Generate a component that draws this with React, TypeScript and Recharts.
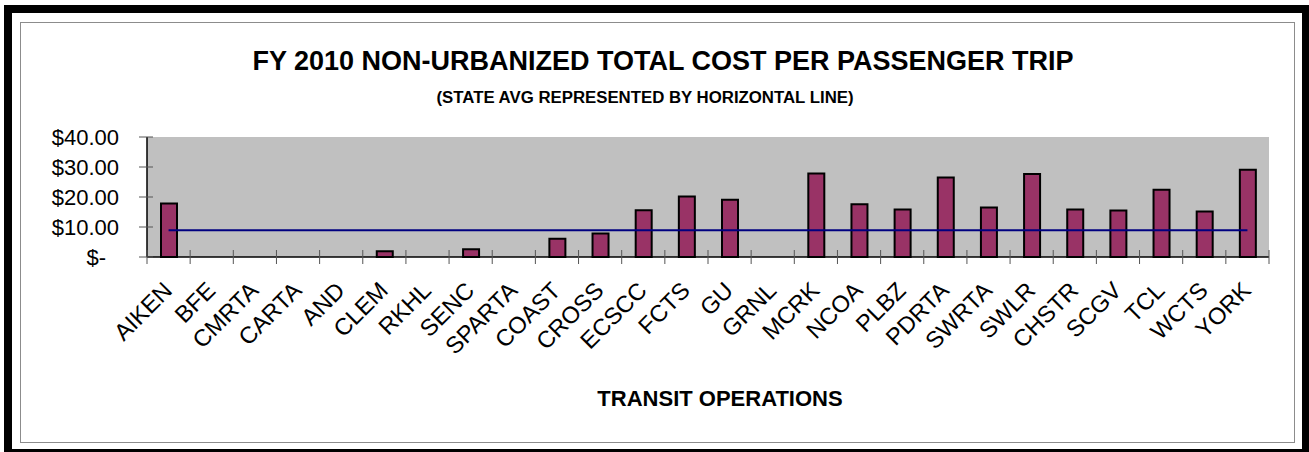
import React from 'react';
import { ComposedChart, Bar, Line, XAxis, YAxis, CartesianGrid } from 'recharts';

const categories = [
  'AIKEN', 'BFE', 'CMRTA', 'CARTA', 'AND', 'CLEM', 'RKHL', 'SENC', 'SPARTA', 'COAST',
  'CROSS', 'ECSCC', 'FCTS', 'GU', 'GRNL', 'MCRK', 'NCOA', 'PLBZ', 'PDRTA', 'SWRTA',
  'SWLR', 'CHSTR', 'SCGV', 'TCL', 'WCTS', 'YORK',
];
const costPerTrip = [
  17.8, 0, 0, 0, 0, 1.9, 0, 2.6, 0, 6.1,
  7.8, 15.6, 20.2, 19.1, 0, 27.8, 17.6, 15.8, 26.5, 16.5,
  27.7, 15.8, 15.5, 22.4, 15.2, 29.1,
];
const stateAverage = 8.9;
const yTicks = [0, 10, 20, 30, 40];

const data = categories.map((name, i) => ({
  name,
  cost: costPerTrip[i],
  avg: stateAverage,
}));

const W = 1309;
const H = 452;
const MARGIN = { top: 137, right: 40, left: 0, bottom: 0 };
const Y_AXIS_W = 147;
const X_AXIS_H = 195;
const PLOT_W = W - MARGIN.right - MARGIN.left - Y_AXIS_W;
const FONT = '"Liberation Sans", Arial, sans-serif';

const CategoryTick = (props: any) => {
  const { x, y, payload, index } = props;
  const band = PLOT_W / categories.length;
  const px = x + 5;
  const py = y + 35;
  return (
    <g>
      <line x1={x - band / 2} x2={x - band / 2} y1={y - 7} y2={y + 7} stroke="#555" />
      {index === categories.length - 1 && (
        <line x1={x + band / 2} x2={x + band / 2} y1={y - 7} y2={y + 7} stroke="#555" />
      )}
      <text
        x={px}
        y={py}
        transform={`rotate(-45, ${px}, ${py})`}
        textAnchor="end"
        fontSize={23.5}
        fontFamily={FONT}
        fill="#000"
      >
        {payload.value}
      </text>
    </g>
  );
};

const MoneyTick = (props: any) => {
  const { x, y, payload } = props;
  const v = payload.value as number;
  const label = v === 0 ? '$-' : `$${v.toFixed(2)}`;
  return (
    <g>
      <line x1={x - 8} x2={x + 6} y1={y} y2={y} stroke="#555" />
      <text
        x={v === 0 ? x - 41 : x - 28}
        y={y}
        dy="0.355em"
        textAnchor="end"
        fontSize={22}
        fontFamily={FONT}
        fill="#000"
      >
        {label}
      </text>
    </g>
  );
};

const textBase: React.CSSProperties = {
  position: 'absolute',
  transform: 'translateX(-50%)',
  whiteSpace: 'nowrap',
  fontFamily: FONT,
  fontWeight: 'bold',
  lineHeight: 1,
  color: '#000',
};

export default function App() {
  return (
    <div
      style={{
        position: 'absolute',
        left: 0,
        top: 0,
        width: W,
        height: H,
        overflow: 'hidden',
        background: '#fff',
      }}
    >
      <div
        style={{
          position: 'absolute',
          left: 4,
          top: 5,
          width: 1306,
          height: 452,
          border: '8px solid #000',
          boxSizing: 'border-box',
        }}
      />
      <div
        style={{
          position: 'absolute',
          left: 20,
          top: 22,
          width: 1275,
          height: 421,
          border: '1px solid #8c8c8c',
          boxSizing: 'border-box',
        }}
      />
      <div style={{ ...textBase, left: 663, top: 48, fontSize: 27 }}>
        FY 2010 NON-URBANIZED TOTAL COST PER PASSENGER TRIP
      </div>
      <div style={{ ...textBase, left: 645, top: 90, fontSize: 16.8 }}>
        (STATE AVG REPRESENTED BY HORIZONTAL LINE)
      </div>
      <div style={{ ...textBase, left: 720, top: 388, fontSize: 22 }}>
        TRANSIT OPERATIONS
      </div>
      <div style={{ position: 'absolute', left: 0, top: 0 }}>
        <ComposedChart width={W} height={H} data={data} margin={MARGIN}>
          <CartesianGrid fill="#c0c0c0" horizontal={false} vertical={false} />
          <XAxis
            dataKey="name"
            type="category"
            height={X_AXIS_H}
            interval={0}
            tickSize={0}
            tickMargin={0}
            tickLine={false}
            axisLine={{ stroke: '#000', strokeWidth: 1.5 }}
            tick={<CategoryTick />}
          />
          <XAxis
            xAxisId="top"
            dataKey="name"
            orientation="top"
            height={0}
            tick={false}
            tickLine={false}
            axisLine={{ stroke: '#808080', strokeWidth: 2 }}
          />
          <YAxis
            domain={[0, 40]}
            ticks={yTicks}
            width={Y_AXIS_W}
            tickSize={0}
            tickMargin={0}
            tickLine={false}
            axisLine={{ stroke: '#000', strokeWidth: 1.5 }}
            tick={<MoneyTick />}
            interval={0}
          />
          <YAxis
            yAxisId="right"
            orientation="right"
            domain={[0, 40]}
            width={0}
            tick={false}
            tickLine={false}
            axisLine={{ stroke: '#808080', strokeWidth: 2 }}
          />
          <Bar
            dataKey="cost"
            fill="#993366"
            stroke="#000"
            strokeWidth={2}
            barSize={16}
            isAnimationActive={false}
          />
          <Line
            dataKey="avg"
            stroke="#000080"
            strokeWidth={2}
            dot={false}
            activeDot={false}
            isAnimationActive={false}
          />
        </ComposedChart>
      </div>
    </div>
  );
}
